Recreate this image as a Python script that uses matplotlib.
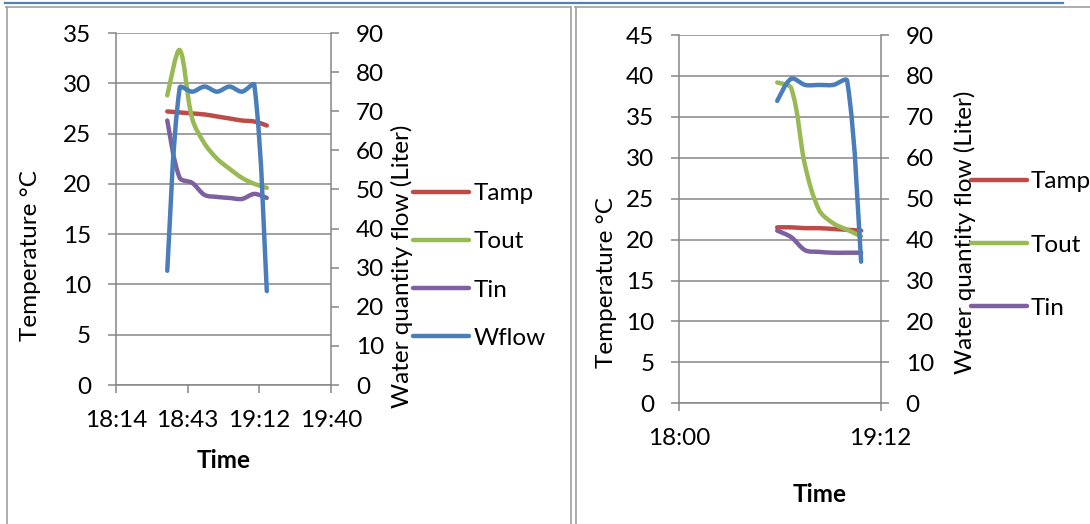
import numpy as np
import matplotlib
matplotlib.use("Agg")
import matplotlib.pyplot as plt
from matplotlib.path import Path
from matplotlib.patches import PathPatch
from matplotlib.lines import Line2D
from matplotlib.ticker import FuncFormatter

plt.rcParams['font.family'] = ['Lato', 'DejaVu Sans']

# run 1 (readings every 5 minutes)
times_1 = ["18:35", "18:40", "18:45", "18:50", "18:55", "19:00", "19:05", "19:10", "19:15"]
tamp_1 = [27.2, 27.1, 27.0, 26.9, 26.7, 26.5, 26.3, 26.2, 25.8]
tout_1 = [28.8, 33.3, 26.5, 24.0, 22.5, 21.5, 20.6, 20.0, 19.6]
tin_1 = [26.3, 20.6, 20.1, 18.9, 18.7, 18.6, 18.5, 19.0, 18.6]
wflow_1 = [29.2, 76.0, 75.0, 76.3, 75.0, 76.3, 75.0, 76.7, 24.0]

# run 2
times_2 = ["18:35", "18:40", "18:45", "18:50", "18:55", "19:00", "19:05"]
tamp_2 = [21.5, 21.5, 21.4, 21.4, 21.3, 21.2, 21.1]
tout_2 = [39.2, 38.5, 29.0, 23.6, 22.0, 21.2, 20.4]
tin_2 = [21.1, 20.3, 18.7, 18.5, 18.4, 18.4, 18.4]
wflow_2 = [73.9, 79.3, 77.8, 77.8, 77.8, 78.8, 34.6]

RED = "#BE4B48"
GREEN = "#98B954"
PURPLE = "#7D60A0"
BLUE = "#4A7EBB"
GRID = "#868686"
LW = 3.2
FS = 17.5

W, H = 1090, 524


def to_day(hhmm):
    h, m = hhmm.split(":")
    return (int(h) * 60 + int(m)) / 1440


def fmt_time(v, _):
    sec = int(round(v * 86400))
    return f"{sec // 3600}:{(sec // 60) % 60:02d}"


def smooth_line(ax, x, y, color):
    # smoothed line: bezier segments, tangents weighted by segment length on screen
    pts = ax.transData.transform(np.column_stack([x, y]).astype(float))
    n = len(pts)
    d = np.hypot(*np.diff(pts, axis=0).T)
    verts = [pts[0]]
    codes = [Path.MOVETO]
    for i in range(n - 1):
        p0 = pts[max(i - 1, 0)]
        p1 = pts[i]
        p2 = pts[i + 1]
        p3 = pts[min(i + 2, n - 1)]
        da = d[i - 1] if i > 0 else d[i]
        dc = d[i + 1] if i < n - 2 else d[i]
        c1 = p1 + (p2 - p0) * d[i] / (da + d[i]) / 3
        c2 = p2 - (p3 - p1) * d[i] / (d[i] + dc) / 3
        verts += [c1, c2, p2]
        codes += [Path.CURVE4] * 3
    verts = ax.transData.inverted().transform(np.array(verts))
    ax.add_patch(PathPatch(Path(verts, codes), facecolor="none", edgecolor=color,
                           lw=LW, capstyle="round", joinstyle="round"))
    return Line2D([], [], color=color, lw=LW, solid_capstyle="round")


def px_axes(fig, left, top, right, bottom):
    return fig.add_axes([left / W, 1 - bottom / H, (right - left) / W, (bottom - top) / H])


def style(ax, axr, tmax, tstep, xlo, xhi, xstep):
    ax.set_xlim(xlo, xhi)
    ax.set_xticks(np.arange(xlo, xhi + xstep / 2, xstep))
    ax.xaxis.set_major_formatter(FuncFormatter(fmt_time))
    ax.set_ylim(0, tmax)
    ax.set_yticks(range(0, tmax + 1, tstep))
    axr.set_ylim(0, 90)
    axr.set_yticks(range(0, 91, 10))
    ax.yaxis.grid(True, color=GRID, lw=1.1)
    ax.set_axisbelow(True)
    for a in (ax, axr):
        for s in a.spines.values():
            s.set_visible(False)
            s.set_color(GRID)
            s.set_linewidth(1.1)
        a.tick_params(direction="out", length=6, width=1.1, color=GRID,
                      pad=12, labelsize=FS, labelcolor="black")
    ax.spines["left"].set_visible(True)
    ax.spines["bottom"].set_visible(True)
    axr.spines["right"].set_visible(True)


fig = plt.figure(figsize=(W / 100, H / 100), dpi=100)

# table cell borders
def fig_line(x0, y0, x1, y1, color, lw):
    fig.add_artist(Line2D([x0 / W, x1 / W], [1 - y0 / H, 1 - y1 / H], color=color,
                          lw=lw, transform=fig.transFigure))

fig_line(5, 3, 1063, 3, "#4F81BD", 1.6)
fig_line(6, 6.5, 570, 6.5, "#A0A0A0", 1.2)
fig_line(575, 6.5, 1090, 6.5, "#A0A0A0", 1.2)
for xv in (6.5, 570.5, 575.5):
    fig_line(xv, 6.5, xv, 524, "#A0A0A0", 1.2)

# left chart
ax1 = px_axes(fig, 116, 33, 331, 385)
ax1r = ax1.twinx()
x1 = [to_day(t) for t in times_1]
style(ax1, ax1r, 35, 5, 0.76, 0.82, 0.02)
h1 = [smooth_line(ax1, x1, tamp_1, RED),
      smooth_line(ax1, x1, tout_1, GREEN),
      smooth_line(ax1, x1, tin_1, PURPLE),
      smooth_line(ax1r, x1, wflow_1, BLUE)]
fig.legend(h1, ["Tamp", "Tout", "Tin", "Wflow"], loc="center left",
           bbox_to_anchor=(413 / W, 1 - 266 / H), frameon=False, fontsize=FS,
           handlelength=2.3, handletextpad=0.2, labelspacing=1.12,
           borderpad=0, borderaxespad=0)
fig.text(31 / W, 1 - 256 / H, "Temperature °C", rotation=90, ha="center", va="center", fontsize=FS)
fig.text(402 / W, 1 - 266 / H, "Water quantity flow (Liter)", rotation=90, ha="center", va="center", fontsize=FS)
fig.text(224 / W, 1 - 460 / H, "Time", ha="center", va="center", fontsize=FS, fontweight="bold")

# right chart
ax2 = px_axes(fig, 679.3, 35, 880.7, 403.3)
ax2r = ax2.twinx()
x2 = [to_day(t) for t in times_2]
style(ax2, ax2r, 45, 5, 0.75, 0.80, 0.05)
h2 = [smooth_line(ax2, x2, tamp_2, RED),
      smooth_line(ax2, x2, tout_2, GREEN),
      smooth_line(ax2, x2, tin_2, PURPLE)]
smooth_line(ax2r, x2, wflow_2, BLUE)
fig.legend(h2, ["Tamp", "Tout", "Tin"], loc="center left",
           bbox_to_anchor=(971 / W, 1 - 245 / H), frameon=False, fontsize=FS,
           handlelength=2.3, handletextpad=0.15, labelspacing=1.73,
           borderpad=0, borderaxespad=0)
fig.text(607 / W, 1 - 283 / H, "Temperature °C", rotation=90, ha="center", va="center", fontsize=FS)
fig.text(965 / W, 1 - 232 / H, "Water quantity flow (Liter)", rotation=90, ha="center", va="center", fontsize=FS)
fig.text(820 / W, 1 - 495 / H, "Time", ha="center", va="center", fontsize=FS, fontweight="bold")

fig.savefig("out.png", dpi=100)
